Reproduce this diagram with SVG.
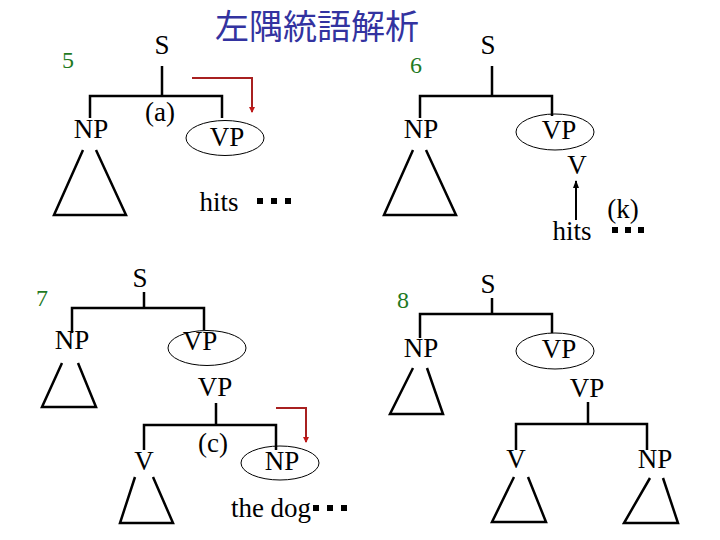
<svg xmlns="http://www.w3.org/2000/svg" width="720" height="540" viewBox="0 0 720 540">
<defs>
<style>
.t{font-family:"Liberation Serif","Times New Roman",serif;font-size:27px;fill:#000;text-anchor:middle}
.n{font-family:"Liberation Serif","Times New Roman",serif;font-size:24px;fill:#1f7a1f;text-anchor:middle}
.ln{fill:none;stroke:#000;stroke-width:2.5}
.el{fill:none;stroke:#000;stroke-width:1}
.red{fill:none;stroke:#a82020;stroke-width:2}
.dot{fill:#000}
.title{font-family:"Noto Sans CJK JP","Noto Sans CJK SC",sans-serif;font-size:34px;fill:#3333a0;text-anchor:middle}
</style>
<marker id="ra" markerWidth="6" markerHeight="6" refX="5" refY="3" orient="auto" markerUnits="userSpaceOnUse">
<path d="M0,0 L6,3 L0,6 Z" fill="#c01818"/>
</marker>
<marker id="ba" markerWidth="8" markerHeight="8" refX="7" refY="4" orient="auto" markerUnits="userSpaceOnUse">
<path d="M0,1 L8,4 L0,7 Z" fill="#000"/>
</marker>
</defs>
<rect width="720" height="540" fill="#fff"/>
<text class="title" x="317" y="39">左隅統語解析</text>

<g id="tree5">
<text class="n" x="68" y="68">5</text>
<text class="t" x="162" y="54">S</text>
<text class="t" x="91" y="138">NP</text>
<text class="t" x="160" y="121">(a)</text>
<ellipse class="el" cx="225" cy="138" rx="39" ry="17.5"/>
<text class="t" x="227" y="146">VP</text>
<text class="t" x="219" y="211">hits</text>
<rect class="dot" x="257" y="198" width="6" height="6"/>
<rect class="dot" x="271" y="198" width="6" height="6"/>
<rect class="dot" x="285" y="198" width="6" height="6"/>
</g>

<g id="tree6">
<text class="n" x="416" y="73">6</text>
<text class="t" x="488" y="54">S</text>
<text class="t" x="421" y="138">NP</text>
<ellipse class="el" cx="555" cy="132" rx="39" ry="18"/>
<text class="t" x="559" y="139">VP</text>
<text class="t" x="577" y="174">V</text>
<text class="t" x="572" y="240">hits</text>
<text class="t" x="623" y="218">(k)</text>
<rect class="dot" x="612" y="227" width="6" height="6"/>
<rect class="dot" x="625" y="227" width="6" height="6"/>
<rect class="dot" x="638" y="227" width="6" height="6"/>
</g>

<g id="tree7">
<text class="n" x="42" y="306">7</text>
<text class="t" x="140" y="287">S</text>
<text class="t" x="72" y="349">NP</text>
<ellipse class="el" cx="207" cy="348" rx="39" ry="17.5"/>
<text class="t" x="200" y="350">VP</text>
<text class="t" x="215" y="396">VP</text>
<text class="t" x="144" y="470">V</text>
<text class="t" x="213" y="452">(c)</text>
<ellipse class="el" cx="280" cy="463" rx="39" ry="17"/>
<text class="t" x="282" y="470">NP</text>
<text class="t" x="271" y="517">the dog</text>
<rect class="dot" x="313" y="505" width="6" height="6"/>
<rect class="dot" x="327" y="505" width="6" height="6"/>
<rect class="dot" x="341" y="505" width="6" height="6"/>
</g>

<g id="tree8">
<text class="n" x="403" y="308">8</text>
<text class="t" x="488" y="293">S</text>
<text class="t" x="421" y="357">NP</text>
<ellipse class="el" cx="555" cy="351" rx="39" ry="18"/>
<text class="t" x="559" y="358">VP</text>
<text class="t" x="587" y="397">VP</text>
<text class="t" x="516" y="468">V</text>
<text class="t" x="655" y="468">NP</text>
</g>

<g id="connectors">
<path class="ln" d="M162 66 V96 M90 118 V96 H222 V118"/>
<path class="ln" d="M83 150 L54 215 H126 L96 150"/>
<path class="red" d="M192 78 H252 V112" marker-end="url(#ra)"/>

<path class="ln" d="M492 66 V96 M420 118 V96 H552 V116"/>
<path class="ln" d="M413 150 L384 215 H456 L426 150"/>
<path fill="none" stroke="#000" stroke-width="2" d="M576 220 V181" marker-end="url(#ba)"/>

<path class="ln" d="M144 292 V308 M72 333 V308 H204 V330"/>
<path class="ln" d="M62 363 L42 407 H96 L78 363"/>
<path class="ln" d="M216 403 V425 M144 450 V425 H276 V450"/>
<path class="ln" d="M135 477 L120 523 H173 L153 477"/>
<path class="red" d="M276 408 H306 V442" marker-end="url(#ra)"/>

<path class="ln" d="M492 298 V314 M420 338 V314 H552 V333"/>
<path class="ln" d="M413 368 L390 414 H443 L427 368"/>
<path class="ln" d="M588 402 V424 M516 450 V424 H647 V450"/>
<path class="ln" d="M514 477 L492 522 H546 L528 477"/>
<path class="ln" d="M650 478 L624 523 H678 L663 478"/>
</g>
</svg>
